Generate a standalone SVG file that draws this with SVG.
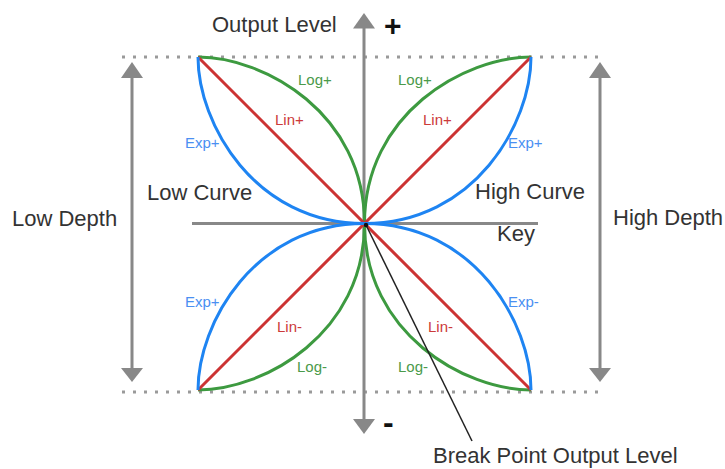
<svg xmlns="http://www.w3.org/2000/svg" width="725" height="469" viewBox="0 0 725 469">
<style>
.big{font-family:"Liberation Sans",Arial,sans-serif;font-size:22px;fill:#333}
.sm{font-family:"Liberation Sans",Arial,sans-serif;font-size:15px}
.sym{font-family:"Liberation Sans",Arial,sans-serif;font-weight:bold;fill:#111}
.dot{stroke:#9a9a9a;stroke-width:3;stroke-dasharray:3 8;fill:none}
.ax{stroke:#888;stroke-width:3;fill:none}
.head{fill:#888}
.g{stroke:#3d9a40;stroke-width:3;fill:none}
.b{stroke:#1e84f2;stroke-width:3;fill:none}
.r{stroke:#cc3333;stroke-width:3;fill:none}
.tg{fill:#4a9a4a}.tb{fill:#4a8ff2}.tr{fill:#cc3a3a}
</style>
<rect width="725" height="469" fill="#fff"/>
<g id="guides">
<line class="dot" x1="122" y1="57" x2="606" y2="57"/>
<line class="dot" x1="122" y1="392" x2="606" y2="392"/>
</g>
<g id="axes">
<line class="ax" x1="364" y1="26" x2="364" y2="421"/>
<polygon class="head" points="364,13 353,28.5 375,28.5"/>
<polygon class="head" points="364,434 353,419 375,419"/>
<line class="ax" x1="192" y1="223.5" x2="538" y2="223.5"/>
</g>
<g id="low-depth">
<line class="ax" x1="132" y1="75" x2="132" y2="370"/>
<polygon class="head" points="132,62 121,78 143,78"/>
<polygon class="head" points="132,382 121,368 143,368"/>
</g>
<g id="high-depth">
<line class="ax" x1="600" y1="75" x2="600" y2="370"/>
<polygon class="head" points="600,62 589,78 611,78"/>
<polygon class="head" points="600,382 589,368 611,368"/>
</g>
<g id="curves">
<path class="g" d="M364.5,223.5 C364.5,113.5 264.5,57 198,57"/>
<path class="g" d="M364.5,223.5 C364.5,113.5 464.5,57 531,57"/>
<path class="g" d="M364.5,223.5 C364.5,333.5 264.5,390 198,390"/>
<path class="g" d="M364.5,223.5 C364.5,333.5 464.5,390 531,390"/>
<path class="r" d="M198,57 L531,390 M531,57 L198,390"/>
<path class="b" d="M364.5,223.5 C254.5,223.5 198,123.5 198,57"/>
<path class="b" d="M364.5,223.5 C474.5,223.5 531,123.5 531,57"/>
<path class="b" d="M364.5,223.5 C254.5,223.5 198,323.5 198,390"/>
<path class="b" d="M364.5,223.5 C474.5,223.5 531,323.5 531,390"/>
</g>
<g id="connectors">
<line x1="366" y1="225" x2="472" y2="441" stroke="#222" stroke-width="1.5"/>
<circle cx="366" cy="225" r="2.2" fill="#111"/>
</g>
<g id="labels">
<text class="big" x="212" y="32">Output Level</text>
<text class="sym" x="384" y="36" font-size="30">+</text>
<text class="sym" x="383" y="433" font-size="32">-</text>
<text class="big" x="12" y="226">Low Depth</text>
<text class="big" x="147" y="200">Low Curve</text>
<text class="big" x="475" y="199">High Curve</text>
<text class="big" x="613" y="225">High Depth</text>
<text class="big" x="497" y="241">Key</text>
<text class="big" x="433" y="463">Break Point Output Level</text>
<text class="sm tg" x="298" y="85">Log+</text>
<text class="sm tr" x="275" y="125">Lin+</text>
<text class="sm tb" x="185" y="148">Exp+</text>
<text class="sm tg" x="398" y="85">Log+</text>
<text class="sm tr" x="423" y="125">Lin+</text>
<text class="sm tb" x="508" y="148">Exp+</text>
<text class="sm tb" x="185" y="307">Exp+</text>
<text class="sm tr" x="277" y="332">Lin-</text>
<text class="sm tg" x="297" y="372">Log-</text>
<text class="sm tb" x="508" y="307">Exp-</text>
<text class="sm tr" x="428" y="332">Lin-</text>
<text class="sm tg" x="398" y="372">Log-</text>
</g>
</svg>
